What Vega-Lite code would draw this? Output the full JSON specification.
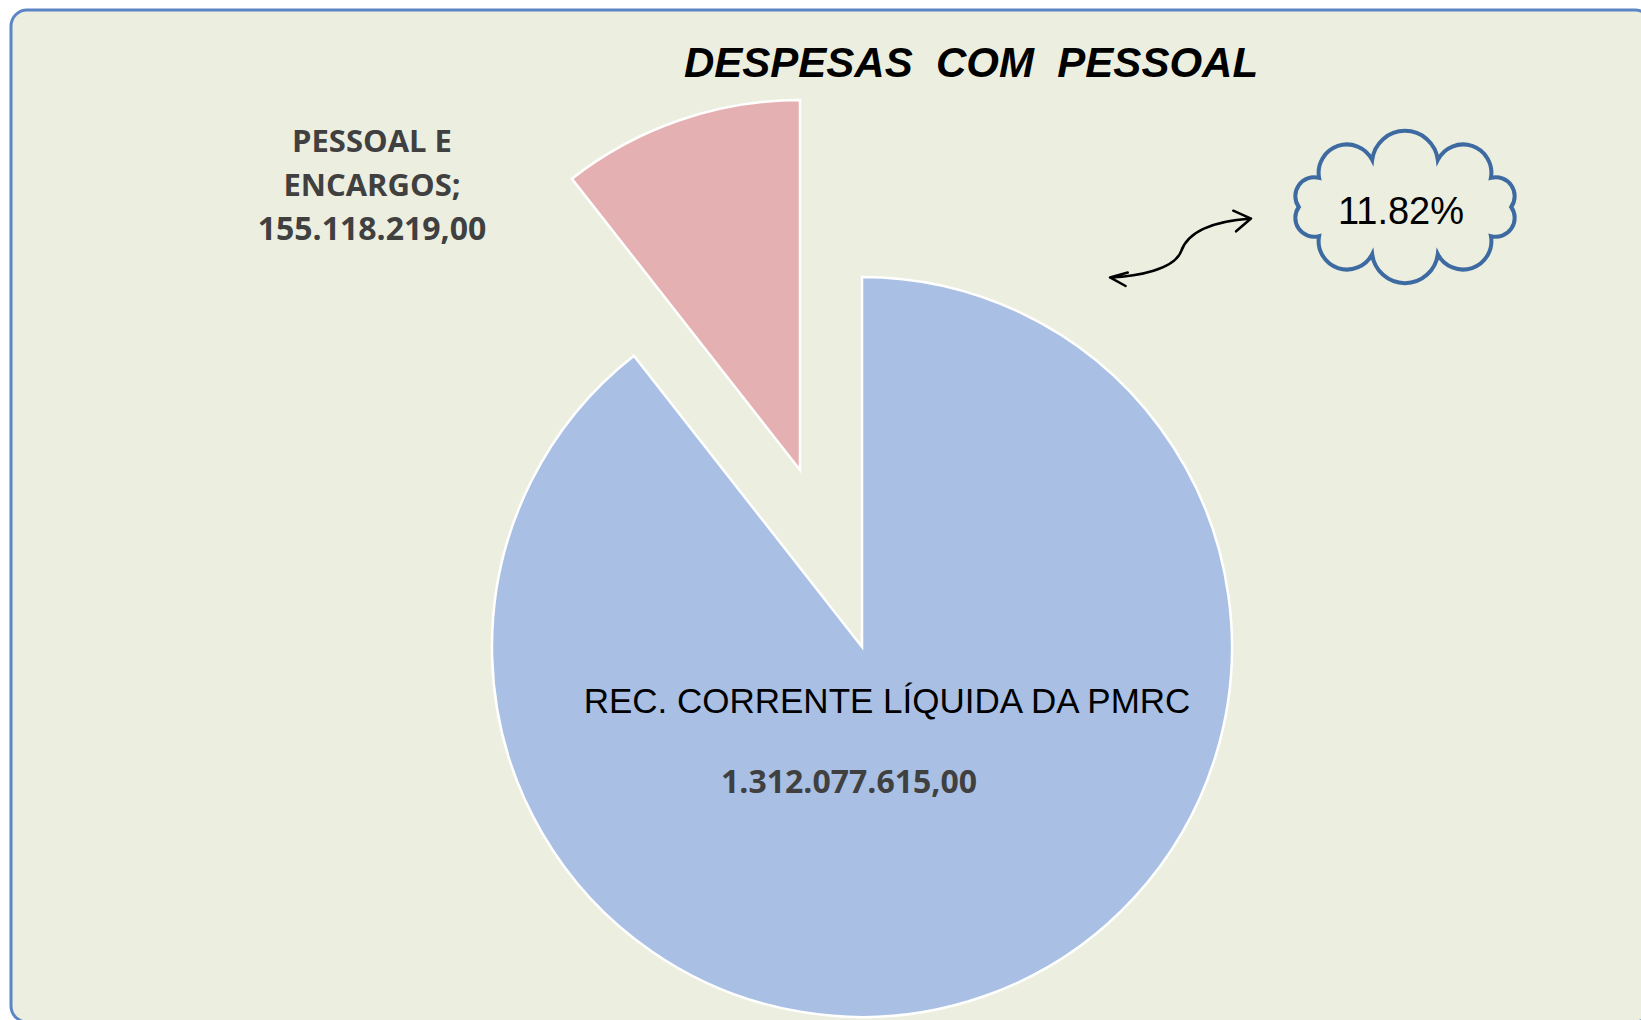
{
  "$schema": "https://vega.github.io/schema/vega-lite/v6.json",
  "width": 1640,
  "height": 1012,
  "autosize": {"type": "none"},
  "padding": {"left": 11, "top": 10, "right": 0, "bottom": 0},
  "background": "#ffffff",
  "view": {"fill": "#ecefe0", "stroke": "#5b85c5", "strokeWidth": 3, "cornerRadius": 16},
  "config": {
    "view": {"fill": "#ecefe0", "stroke": "#5b85c5", "strokeWidth": 3, "cornerRadius": 16},
    "locale": {"number": {"decimal": ",", "thousands": ".", "grouping": [3], "currency": ["R$ ", ""]}}
  },
  "title": {
    "text": "DESPESAS\u00a0\u00a0COM\u00a0\u00a0PESSOAL",
    "anchor": "middle",
    "dx": 140,
    "offset": -109,
    "baseline": "alphabetic",
    "font": "Liberation Sans",
    "fontSize": 42,
    "fontWeight": "bold",
    "fontStyle": "italic",
    "color": "#000000"
  },
  "datasets": {
    "pie": [
      {"categoria": "REC. CORRENTE LÍQUIDA DA PMRC", "rotulo": "REC. CORRENTE LÍQUIDA DA PMRC", "valor": 1312077615.0},
      {"categoria": "PESSOAL E ENCARGOS", "rotulo": "PESSOAL E\nENCARGOS;", "valor": 155118219.0}
    ],
    "nota": [{"texto": "11.82%"}]
  },
  "data": {"name": "pie"},
  "transform": [{"stack": "valor", "groupby": [], "sort": [{"field": "categoria", "order": "descending"}], "as": ["v0", "v1"]}],
  "layer": [
    {
      "transform": [{"filter": {"field": "categoria", "equal": "REC. CORRENTE LÍQUIDA DA PMRC"}}],
      "mark": {"type": "arc", "radius": 370, "stroke": "#ffffff", "strokeWidth": 2.5, "xOffset": 31, "yOffset": 131},
      "encoding": {
        "theta": {"field": "v1", "type": "quantitative", "scale": {"zero": true, "nice": false}},
        "theta2": {"field": "v0"},
        "color": {"value": "#a9c0e4"}
      }
    },
    {
      "transform": [{"filter": {"field": "categoria", "equal": "PESSOAL E ENCARGOS"}}],
      "mark": {"type": "arc", "radius": 370, "stroke": "#ffffff", "strokeWidth": 2.5, "xOffset": -31, "yOffset": -46},
      "encoding": {
        "theta": {"field": "v1", "type": "quantitative"},
        "theta2": {"field": "v0"},
        "color": {"value": "#e4b0b2"}
      }
    },
    {
      "transform": [{"filter": {"field": "categoria", "equal": "PESSOAL E ENCARGOS"}}],
      "mark": {"type": "text", "align": "center", "baseline": "middle", "lineBreak": "\n", "lineHeight": 44, "dx": -459, "dy": -373, "font": "Open Sans", "fontSize": 31, "fontWeight": "bold", "color": "#404040"},
      "encoding": {"text": {"field": "rotulo", "type": "nominal"}}
    },
    {
      "transform": [{"filter": {"field": "categoria", "equal": "PESSOAL E ENCARGOS"}}],
      "mark": {"type": "text", "align": "center", "baseline": "middle", "dx": -459, "dy": -286, "font": "Open Sans", "fontSize": 32, "fontWeight": "bold", "color": "#404040"},
      "encoding": {"text": {"field": "valor", "type": "quantitative", "format": ",.2f"}}
    },
    {
      "transform": [{"filter": {"field": "categoria", "equal": "REC. CORRENTE LÍQUIDA DA PMRC"}}],
      "mark": {"type": "text", "align": "center", "baseline": "middle", "dx": 56, "dy": 186, "font": "Liberation Sans", "fontSize": 35, "color": "#000000"},
      "encoding": {"text": {"field": "rotulo", "type": "nominal"}}
    },
    {
      "transform": [{"filter": {"field": "categoria", "equal": "REC. CORRENTE LÍQUIDA DA PMRC"}}],
      "mark": {"type": "text", "align": "center", "baseline": "middle", "dx": 18, "dy": 267, "font": "Open Sans", "fontSize": 32, "fontWeight": "bold", "color": "#404040"},
      "encoding": {"text": {"field": "valor", "type": "quantitative", "format": ",.2f"}}
    },
    {
      "data": {"name": "nota"},
      "mark": {
        "type": "point",
        "shape": "M 0.9 0 A 0.16 0.16 0 0 1 0.728 0.247 A 0.24 0.24 0 0 1 0.278 0.399 A 0.28 0.28 0 0 1 -0.278 0.399 A 0.24 0.24 0 0 1 -0.728 0.247 A 0.16 0.16 0 0 1 -0.9 0 A 0.16 0.16 0 0 1 -0.728 -0.247 A 0.24 0.24 0 0 1 -0.278 -0.399 A 0.28 0.28 0 0 1 0.278 -0.399 A 0.24 0.24 0 0 1 0.728 -0.247 A 0.16 0.16 0 0 1 0.9 0 Z",
        "size": 55696,
        "filled": false,
        "opacity": 1,
        "stroke": "#3e6aa2",
        "strokeWidth": 4,
        "xOffset": 574,
        "yOffset": -309
      },
      "encoding": {}
    },
    {
      "data": {"name": "nota"},
      "mark": {
        "type": "point",
        "shape": "M -1 0.415 C -0.6 0.4 -0.1 0.3 0 0.05 C 0.1 -0.25 0.5 -0.38 0.986 -0.415 M 0.736 -0.525 L 0.986 -0.415 L 0.776 -0.235 M -0.75 0.345 L -1 0.415 L -0.78 0.535",
        "size": 20164,
        "filled": false,
        "opacity": 1,
        "stroke": "#000000",
        "strokeWidth": 2.5,
        "strokeCap": "round",
        "strokeJoin": "round",
        "xOffset": 350,
        "yOffset": -268
      },
      "encoding": {}
    },
    {
      "data": {"name": "nota"},
      "mark": {"type": "text", "align": "center", "baseline": "middle", "dx": 570, "dy": -303, "font": "Liberation Sans", "fontSize": 38, "color": "#000000"},
      "encoding": {"text": {"field": "texto", "type": "nominal"}}
    }
  ]
}
